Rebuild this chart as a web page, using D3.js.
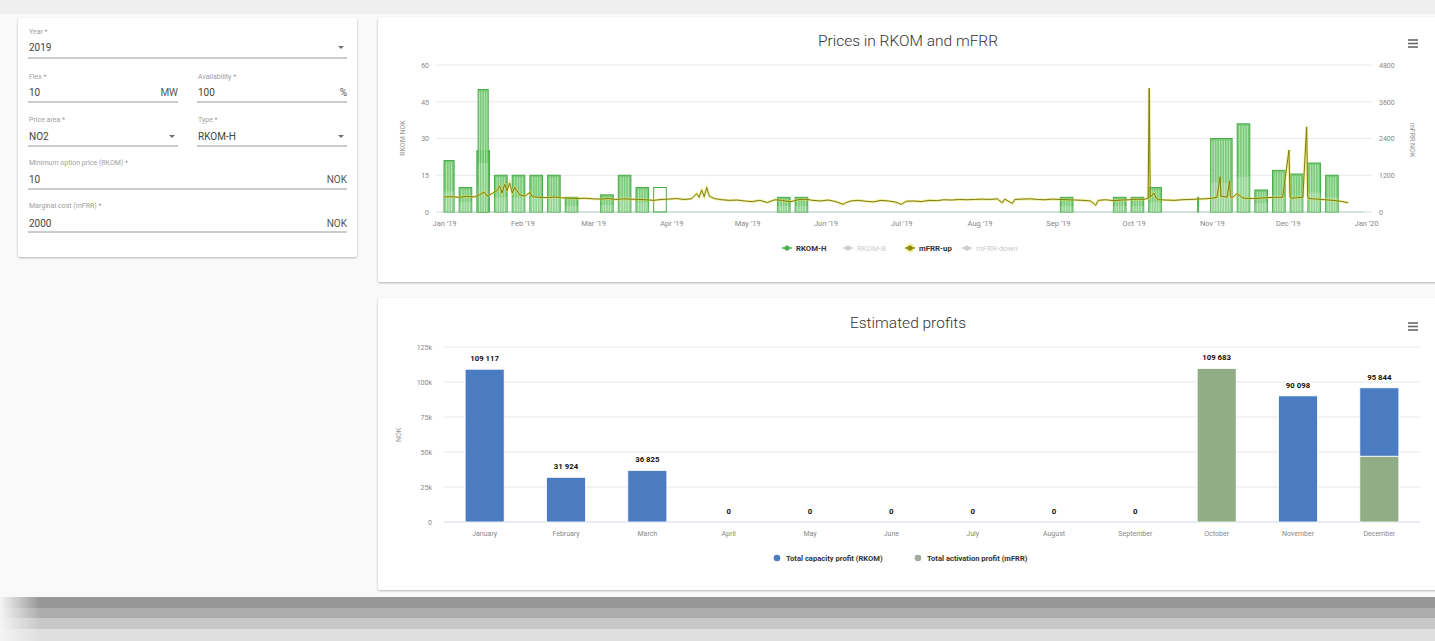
<!DOCTYPE html>
<html><head><meta charset="utf-8">
<script src="https://cdn.jsdelivr.net/npm/d3@7"></script>
<style>
body{margin:0;background:#f7f7f7;overflow:hidden}
svg{display:block}
text{font-family:Roboto,"Liberation Sans",sans-serif}
</style></head><body>
<svg id="c" width="1435" height="641"></svg>
<script>
// ---------- DATA ----------
const formLabels = ["Year *","Flex *","Availability *","Price area *","Type *","Minimum option price (RKOM) *","Marginal cost (mFRR) *"];
const formValues = ["2019","10","100","NO2","RKOM-H","10","2000"];
const formUnits  = ["","MW","%","","","NOK","NOK"];
const formDropdown = [true,false,false,true,true,false,false];

const rkomStart = ["2019-01-01","2019-01-07","2019-01-14","2019-01-14T12:00","2019-01-21","2019-01-28","2019-02-04","2019-02-11","2019-02-18","2019-03-04","2019-03-11","2019-03-18","2019-03-25","2019-05-13","2019-05-20","2019-09-02","2019-09-23","2019-09-30","2019-10-07","2019-10-26T08:00","2019-10-31T12:00","2019-11-11","2019-11-18","2019-11-25","2019-12-02","2019-12-09","2019-12-16"];
const rkomEnd   = ["2019-01-05","2019-01-12","2019-01-19","2019-01-18T12:00","2019-01-26","2019-02-02","2019-02-09","2019-02-16","2019-02-23","2019-03-09","2019-03-16","2019-03-23","2019-03-30","2019-05-18","2019-05-25","2019-09-07","2019-09-28","2019-10-05","2019-10-12","2019-10-26T16:00","2019-11-09","2019-11-16","2019-11-23","2019-11-30","2019-12-07","2019-12-14","2019-12-21"];
const rkomValue = [21,10,25,50,15,15,15,15,6,7,15,10,10,6,6,6,6,6,10,6,30,36,9,17,15.5,20,15];
const rkomFilled = [1,1,1,1,1,1,1,1,1,1,1,1,0,1,1,1,1,1,1,1,1,1,1,1,1,1,1];

const mfrrTime = ["2019-01-01","2019-01-04","2019-01-07","2019-01-10","2019-01-13","2019-01-15","2019-01-17","2019-01-18","2019-01-20","2019-01-22","2019-01-23","2019-01-24","2019-01-25","2019-01-26","2019-01-27","2019-01-28","2019-01-29","2019-01-31",
"2019-02-02","2019-02-04","2019-02-05","2019-02-08","2019-02-11","2019-02-14","2019-02-17","2019-02-20","2019-02-23","2019-02-26",
"2019-03-01","2019-03-04","2019-03-07","2019-03-10","2019-03-13","2019-03-16","2019-03-19","2019-03-22","2019-03-25","2019-03-28","2019-03-31",
"2019-04-03","2019-04-06","2019-04-09","2019-04-11","2019-04-12","2019-04-13","2019-04-14","2019-04-15","2019-04-16","2019-04-18","2019-04-21","2019-04-24","2019-04-27","2019-04-30",
"2019-05-03","2019-05-06","2019-05-09","2019-05-12","2019-05-15","2019-05-18","2019-05-21","2019-05-24","2019-05-27","2019-05-30",
"2019-06-02","2019-06-05","2019-06-08","2019-06-09","2019-06-11","2019-06-14","2019-06-17","2019-06-20","2019-06-23","2019-06-26","2019-06-29",
"2019-07-01","2019-07-03","2019-07-06","2019-07-09","2019-07-12","2019-07-15","2019-07-18","2019-07-21","2019-07-24","2019-07-27","2019-07-30",
"2019-08-02","2019-08-05","2019-08-08","2019-08-10","2019-08-11","2019-08-14","2019-08-15","2019-08-18","2019-08-21","2019-08-24","2019-08-27","2019-08-30",
"2019-09-02","2019-09-05","2019-09-08","2019-09-11","2019-09-14","2019-09-16","2019-09-17","2019-09-20","2019-09-23","2019-09-26","2019-09-29",
"2019-10-02","2019-10-05","2019-10-06T18:00","2019-10-07T04:00","2019-10-07T14:00","2019-10-09","2019-10-10","2019-10-11","2019-10-14","2019-10-17","2019-10-20","2019-10-23","2019-10-26","2019-10-29",
"2019-11-01","2019-11-03","2019-11-04T06:00","2019-11-04T14:00","2019-11-05","2019-11-07","2019-11-08T00:00","2019-11-08T08:00","2019-11-09","2019-11-11","2019-11-13","2019-11-14","2019-11-17","2019-11-20","2019-11-23","2019-11-26","2019-11-29",
"2019-12-01T12:00","2019-12-01T22:00","2019-12-02T08:00","2019-12-05","2019-12-07","2019-12-08T12:00","2019-12-08T22:00","2019-12-09T08:00","2019-12-11","2019-12-13","2019-12-16","2019-12-19","2019-12-22","2019-12-25","2019-12-28","2019-12-31"];
const mfrrValue = [490,500,480,510,490,560,650,520,600,700,850,620,900,700,950,620,800,560,
520,640,500,480,470,490,460,450,440,450,
430,420,440,410,430,420,410,400,380,410,420,
440,410,430,600,480,720,500,800,520,440,400,380,390,360,
340,380,310,400,380,330,400,420,380,360,
390,340,250,300,360,380,350,330,380,360,320,
250,350,360,340,380,370,400,390,410,400,410,
420,410,430,300,420,280,410,420,430,410,400,420,
410,400,390,380,360,220,380,400,370,390,400,
420,410,450,4040,480,620,450,400,390,380,400,410,420,
430,450,480,1150,500,520,480,1020,500,470,600,470,450,440,450,470,480,
480,2025,500,450,470,480,2780,500,440,430,420,400,380,350,300];

const rkomTicks = [0,15,30,45,60];
const mfrrTicks = [0,1200,2400,3600,4800];

const months = ["January","February","March","April","May","June","July","August","September","October","November","December"];
const capacityProfit   = [109117,31924,36825,0,0,0,0,0,0,0,90098,48844];
const activationProfit = [0,0,0,0,0,0,0,0,0,109683,0,47000];
const profitTicks = [0,25000,50000,75000,100000,125000];

// ---------- DRAW ----------
const svg = d3.select("#c");
const defs = svg.append("defs");
const f = defs.append("filter").attr("id","sh").attr("x","-5%").attr("y","-5%").attr("width","110%").attr("height","115%");
f.append("feDropShadow").attr("dx",0).attr("dy",1).attr("stdDeviation",1.2).attr("flood-color","#000").attr("flood-opacity",0.28);
const g3 = defs.append("linearGradient").attr("id","fadeg").attr("x1",0).attr("y1",0).attr("x2",1).attr("y2",0);
g3.append("stop").attr("offset","0%").attr("stop-color","#f4f4f4").attr("stop-opacity",1);
g3.append("stop").attr("offset","100%").attr("stop-color","#f4f4f4").attr("stop-opacity",0);

// page background
svg.append("rect").attr("width",1435).attr("height",641).attr("fill","#f9f9f9");
svg.append("rect").attr("width",1435).attr("height",14).attr("fill","#efefef");
// bottom bands
[["#979797",597,11],["#adadad",608,10],["#c8c8c8",618,11],["#dfdfdf",629,12]].forEach(b=>{
  svg.append("rect").attr("x",0).attr("y",b[1]).attr("width",1435).attr("height",b[2]).attr("fill",b[0]);
});
svg.append("rect").attr("x",0).attr("y",597).attr("width",40).attr("height",44).attr("fill","url(#fadeg)");

// cards
const card = (x,y,w,h)=>svg.append("rect").attr("x",x).attr("y",y).attr("width",w).attr("height",h).attr("rx",3).attr("fill","#fff").attr("filter","url(#sh)");
card(18,18,339,239);
card(378,17,1070,265);
card(378,298,1070,292);

// ---------- FORM ----------
const fieldX0 = [28,28,197,28,197,28,28];
const fieldX1 = [347,178,347,178,347,347,347];
const fieldRow = [0,1,1,2,2,3,4];
const rowLabelY = [34,79,122,165,208];
const rowValueY = [51,96,140,183,227];
const rowLineY  = [58,102,146,189,232];
const form = svg.append("g");
formLabels.forEach((lab,i)=>{
  const r = fieldRow[i], x0 = fieldX0[i], x1 = fieldX1[i];
  form.append("text").attr("x",x0+1).attr("y",rowLabelY[r]).attr("font-size",7).attr("fill","#a0a0a0").text(lab);
  form.append("text").attr("x",x0+1).attr("y",rowValueY[r]).attr("font-size",10).attr("fill","#444").text(formValues[i]);
  if(formUnits[i]) form.append("text").attr("x",x1).attr("y",rowValueY[r]).attr("text-anchor","end").attr("font-size",10).attr("fill","#555").text(formUnits[i]);
  if(formDropdown[i]) form.append("path").attr("d",`M${x1-9},${rowValueY[r]-5}l6,0l-3,3z`).attr("fill","#707070");
  form.append("line").attr("x1",x0).attr("x2",x1).attr("y1",rowLineY[r]).attr("y2",rowLineY[r]).attr("stroke","#999").attr("stroke-width",1);
});

// hamburger
function burger(x,y){
  [0,3.5,7].forEach(d=>svg.append("line").attr("x1",x).attr("x2",x+10).attr("y1",y+d).attr("y2",y+d).attr("stroke","#666").attr("stroke-width",1.6));
}
burger(1408,40); burger(1408,323);

// ---------- TOP CHART ----------
const parse = s=>new Date(s+(s.length===10?"T00:00":""));
const x = d3.scaleTime().domain([new Date(2019,0,1),new Date(2020,0,1)]).range([444,1366]);
const yL = d3.scaleLinear().domain([0,60]).range([212,65]);
const yR = d3.scaleLinear().domain([0,4800]).range([212,65]);
const topG = svg.append("g");
topG.append("text").attr("x",908).attr("y",46).attr("text-anchor","middle").attr("font-size",15.5).attr("font-weight",300).attr("fill","#333").text("Prices in RKOM and mFRR");
rkomTicks.forEach(t=>{
  topG.append("line").attr("x1",436).attr("x2",1372).attr("y1",yL(t)).attr("y2",yL(t)).attr("stroke",t===0?"#ccd6eb":"#e8e8e8").attr("stroke-width",1);
});
const axL = d3.axisLeft(yL).tickValues(rkomTicks).tickSize(0).tickPadding(0);
const gL = topG.append("g").attr("transform","translate(429,0)").call(axL);
gL.select(".domain").remove();
gL.selectAll("text").attr("font-size",7).attr("fill","#888").attr("font-family","Roboto,sans-serif");
const axR = d3.axisRight(yR).tickValues(mfrrTicks).tickFormat(d3.format("d")).tickSize(0).tickPadding(0);
const gR = topG.append("g").attr("transform","translate(1379,0)").call(axR);
gR.select(".domain").remove();
gR.selectAll("text").attr("font-size",7).attr("fill","#888").attr("font-family","Roboto,sans-serif");
topG.append("text").attr("transform","translate(405,138) rotate(-90)").attr("text-anchor","middle").attr("font-size",7).attr("fill","#999").text("RKOM NOK");
topG.append("text").attr("transform","translate(1410,140) rotate(90)").attr("text-anchor","middle").attr("font-size",7).attr("fill","#999").text("mFRR NOK");
const axX = d3.axisBottom(x).ticks(d3.timeMonth.every(1)).tickFormat(d3.timeFormat("%b '%y")).tickSize(0).tickPadding(0);
const gX = topG.append("g").attr("transform","translate(0,221)").call(axX);
gX.select(".domain").remove();
gX.selectAll("text").attr("font-size",7.5).attr("fill","#888").attr("font-family","Roboto,sans-serif");

// baseline of RKOM series
topG.append("line").attr("x1",x(new Date(2019,0,1))).attr("x2",x(new Date(2019,11,31))).attr("y1",yL(0)).attr("y2",yL(0)).attr("stroke","#8fd08f").attr("stroke-opacity",0.5);

// RKOM bars
const segs = rkomStart.map((s,i)=>({s:parse(s),e:parse(rkomEnd[i]),v:rkomValue[i],f:rkomFilled[i]}));
const bars = topG.append("g");
segs.forEach(d=>{
  const x0 = x(d.s), x1 = x(d.e), y0 = yL(0), y1 = yL(d.v);
  bars.append("rect").attr("x",x0).attr("y",y1).attr("width",Math.max(1,x1-x0)).attr("height",y0-y1)
    .attr("fill",d.f?"#62c262":"none").attr("fill-opacity",0.85).attr("stroke","#4aab4a").attr("stroke-width",1);
  if(d.f){
    d3.timeDay.range(d3.timeDay.offset(d3.timeDay.floor(d.s),1), d.e).forEach(day=>{
      const xd = x(day);
      bars.append("line").attr("x1",xd).attr("x2",xd).attr("y1",y1+2).attr("y2",y0).attr("stroke","#e8f7e8").attr("stroke-opacity",0.7).attr("stroke-width",0.8);
    });
    bars.append("rect").attr("x",x0).attr("y",y0-(y0-y1)*0.4).attr("width",Math.max(1,x1-x0)).attr("height",(y0-y1)*0.4).attr("fill","#fff").attr("fill-opacity",0.2);
  }
});

// mFRR-up line
const mf = mfrrTime.map((t,i)=>({t:parse(t),v:mfrrValue[i]}));
const line = d3.line().x(d=>x(d.t)).y(d=>yR(d.v));
topG.append("path").attr("d",line(mf)).attr("fill","none").attr("stroke","#e4e04a").attr("stroke-width",2.6).attr("stroke-opacity",0.55);
topG.append("path").attr("d",line(mf)).attr("fill","none").attr("stroke","#7d7d14").attr("stroke-width",1);

// top legend
const legTop = [
  {name:"RKOM-H", c:"#4caf50", on:true, x:782},
  {name:"RKOM-B", c:"#cccccc", on:false, x:843},
  {name:"mFRR-up", c:"#8a8a14", on:true, x:905},
  {name:"mFRR-down", c:"#cccccc", on:false, x:962}
];
legTop.forEach(l=>{
  const gy = 248;
  if(l.name==="mFRR-up") topG.append("circle").attr("cx",l.x+5).attr("cy",gy).attr("r",4.5).attr("fill","#f0ec70").attr("opacity",0.7);
  topG.append("line").attr("x1",l.x).attr("x2",l.x+10).attr("y1",gy).attr("y2",gy).attr("stroke",l.c).attr("stroke-width",1.5);
  topG.append("circle").attr("cx",l.x+5).attr("cy",gy).attr("r",2.6).attr("fill",l.c);
  topG.append("text").attr("x",l.x+14).attr("y",gy+2.8).attr("font-size",7.8).attr("font-family","Liberation Sans,Arial,sans-serif")
    .attr("font-weight",l.on?"bold":"normal").attr("fill",l.on?"#333":"#cccccc").text(l.name);
});

// ---------- BOTTOM CHART ----------
const bot = svg.append("g");
bot.append("text").attr("x",908).attr("y",328).attr("text-anchor","middle").attr("font-size",15.5).attr("font-weight",300).attr("fill","#333").text("Estimated profits");
const xb = d3.scaleBand().domain(months).range([444,1420]).paddingInner(0.52).paddingOuter(0.26);
const yb = d3.scaleLinear().domain([0,125000]).range([522,347]);
profitTicks.forEach(t=>{
  bot.append("line").attr("x1",444).attr("x2",1420).attr("y1",yb(t)).attr("y2",yb(t)).attr("stroke",t===0?"#ccd6eb":"#e8e8e8");
});
const ayb = d3.axisLeft(yb).tickValues(profitTicks).tickFormat(v=>v===0?"0":(v/1000)+"k").tickSize(0).tickPadding(0);
const gyb = bot.append("g").attr("transform","translate(432,0)").call(ayb);
gyb.select(".domain").remove();
gyb.selectAll("text").attr("font-size",7).attr("fill","#888").attr("font-family","Roboto,sans-serif");
bot.append("text").attr("transform","translate(401,435) rotate(-90)").attr("text-anchor","middle").attr("font-size",7).attr("fill","#999").text("NOK");
const axb = d3.axisBottom(xb).tickSize(0).tickPadding(0);
const gxb = bot.append("g").attr("transform","translate(0,531)").call(axb);
gxb.select(".domain").remove();
gxb.selectAll("text").attr("font-size",7).attr("fill","#888").attr("font-family","Roboto,sans-serif");

const blue = "#4b7bc1", green = "#91ad86";
months.forEach((m,i)=>{
  const a = activationProfit[i], c = capacityProfit[i];
  const xb0 = xb(m), w = xb.bandwidth();
  if(a>0) bot.append("rect").attr("x",xb0).attr("y",yb(a)).attr("width",w).attr("height",yb(0)-yb(a)).attr("fill",green).attr("stroke","#fff").attr("stroke-width",0.8);
  if(c>0) bot.append("rect").attr("x",xb0).attr("y",yb(a+c)).attr("width",w).attr("height",yb(a)-yb(a+c)).attr("fill",blue).attr("stroke","#fff").attr("stroke-width",0.8);
  const tot = a+c;
  const lbl = d3.format(",")(tot).replace(/,/g," ");
  bot.append("text").attr("x",xb0+w/2).attr("y",yb(tot)-8).attr("text-anchor","middle").attr("font-size",7.8)
    .attr("font-family","Liberation Sans,Arial,sans-serif").attr("font-weight","bold").attr("fill","#111")
    .attr("stroke","#fff").attr("stroke-width",2).attr("paint-order","stroke").text(lbl);
});

// bottom legend
[{n:"Total capacity profit (RKOM)",c:blue,x:777},{n:"Total activation profit (mFRR)",c:"#a3aa9f",x:918}].forEach(l=>{
  bot.append("circle").attr("cx",l.x).attr("cy",558).attr("r",3.3).attr("fill",l.c);
  bot.append("text").attr("x",l.x+9).attr("y",560.8).attr("font-size",7.6).attr("font-family","Liberation Sans,Arial,sans-serif").attr("font-weight","bold").attr("fill","#333").text(l.n);
});
</script></body></html>
